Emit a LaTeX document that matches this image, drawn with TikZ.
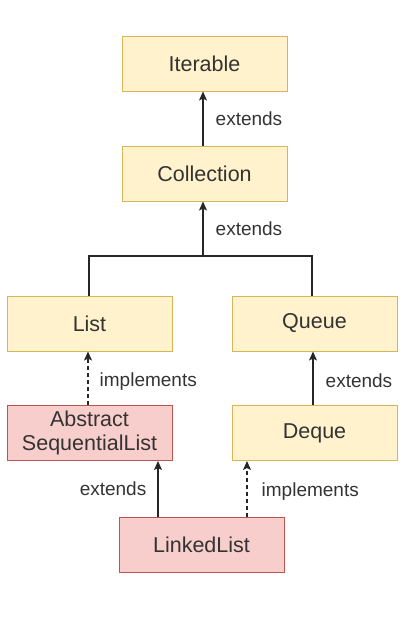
\documentclass[tikz,border=0pt]{standalone}
\usepackage{fontspec}
\setmainfont{Liberation Sans}
\usetikzlibrary{arrows.meta}
\definecolor{ifill}{HTML}{FFF2CC}
\definecolor{iline}{HTML}{D6B656}
\definecolor{cfill}{HTML}{F8CECC}
\definecolor{cline}{HTML}{B85450}
\definecolor{txt}{HTML}{333333}
\tikzset{
  iface/.style={draw=iline, fill=ifill, line width=1pt, minimum width=165pt,
    minimum height=55pt, inner sep=0pt, align=center, text=txt,
    font=\fontsize{21.5}{24.5}\selectfont},
  klass/.style={iface, draw=cline, fill=cfill},
  ext/.style={-{Stealth[length=9pt,width=8pt,inset=2pt]}, line width=1.4pt, draw=black!85},
  impl/.style={ext, dash pattern=on 4pt off 3pt},
  lbl/.style={inner sep=0pt, text=txt, font=\fontsize{19}{22}\selectfont}
}

\begin{document}
\begin{tikzpicture}[x=1pt, y=-1pt]
\useasboundingbox (0,0) rectangle (416,625);
% the boxes
  \node[iface] (iter) at (204.5, 63.5) {Iterable};
  \node[iface] (coll) at (204.5, 173.5) {Collection};
  \node[iface] (list) at (89.5, 323.5) {List};
  \node[iface] (queue) at (314.5, 323.5) {Queue};
  \node[klass] (abs) at (89.5, 433) {Abstract\\SequentialList};
  \node[iface] (deque) at (314.5, 433) {Deque};
  \node[klass] (ll) at (201.5, 544.5) {LinkedList};
% the arrows
  \coordinate (jn) at (203, 256);
  \draw[ext] (coll.north -| jn) -- node[lbl, right=12pt] {extends} (iter.south -| jn);
  \draw[line width=1.4pt, draw=black!85] ([xshift=-0.5pt]list.north) |- (jn) -| ([xshift=-2.5pt]queue.north);
  \draw[ext] (jn) -- node[lbl, right=12pt] {extends} (coll.south -| jn);
  \draw[impl] ([xshift=-1.5pt]abs.north) -- node[lbl, right=11pt, yshift=-3pt] {implements} ([xshift=-1.5pt]list.south);
  \draw[ext] ([xshift=-1.5pt]deque.north) -- node[lbl, right=12pt, yshift=-2pt] {extends} ([xshift=-1.5pt]queue.south);
  \draw[ext] ([xshift=-43.5pt]ll.north) -- node[lbl, left=11pt] {extends} ([xshift=-43.5pt]ll.north |- abs.south);
  \draw[impl] ([xshift=45.5pt]ll.north) -- node[lbl, right=14pt, yshift=-3pt] {implements} ([xshift=45.5pt]ll.north |- deque.south);
\end{tikzpicture}
\end{document}
